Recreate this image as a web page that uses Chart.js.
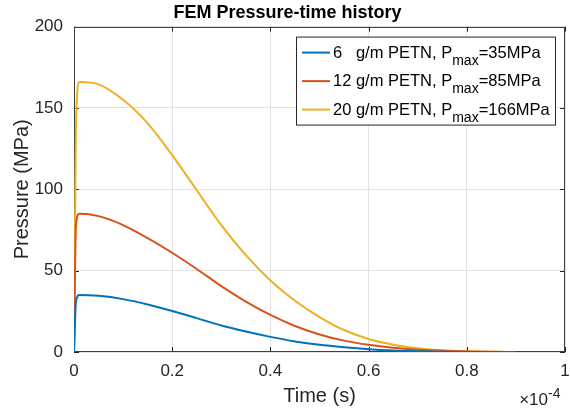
<!DOCTYPE html>
<html>
<head>
<meta charset="utf-8">
<script src="https://cdn.jsdelivr.net/npm/chart.js@4.4.1/dist/chart.umd.min.js"></script>
<style>
  html, body { margin: 0; padding: 0; background: #fff; }
</style>
</head>
<body>
<canvas id="femChart" width="570" height="412"></canvas>
<script>
  // time in units of 1e-4 s (axis shows x10^-4)
  const timeE4 = [0, 0.004, 0.011, 0.05, 0.1, 0.15, 0.2, 0.25, 0.3, 0.35, 0.4, 0.45, 0.5, 0.55, 0.6, 0.65, 0.7, 0.75, 0.8, 0.85, 0.9];
  const p6g  = [0, 31, 35, 34.5, 32.5, 29.2, 25.2, 20.8, 16.3, 12.6, 9.3, 6.5, 4.4, 2.9, 1.7, 0.9, 0.45, 0.2, 0.06, 0, 0];
  const p12g = [0, 78, 85, 83.5, 78, 70, 61, 51, 40.5, 31, 22.8, 16, 10.8, 7, 4.4, 2.6, 1.4, 0.7, 0.3, 0.1, 0];
  const p20g = [0, 140, 166, 164.5, 155, 140.5, 121, 99.4, 78, 59.5, 44, 31.5, 21.5, 13.5, 8, 4.5, 2.3, 1.0, 0.4, 0.1, 0];

  const charges = ['6   g/m', '12 g/m', '20 g/m'];
  const pmaxValues = [35, 85, 166];
  const xTicks = [0, 0.2, 0.4, 0.6, 0.8, 1];
  const yTicks = [0, 50, 100, 150, 200];

  const colors = ['#0072BD', '#D95319', '#EDB120'];
  const fontFamily = "'Liberation Sans', Arial, Helvetica, sans-serif";
  Chart.defaults.font.family = fontFamily;
  Chart.defaults.color = '#262626';

  const toPoints = vals => vals.map((v, i) => ({ x: timeE4[i], y: v }));
  const series = [p6g, p12g, p20g];
  const fmt = v => String(Number(Number(v).toFixed(2)));

  // MATLAB style box, inward ticks, exponent label, legend with subscript
  const boxPlugin = {
    id: 'matlabBox',
    beforeDatasetsDraw(chart) {
      const { ctx, chartArea: a, scales } = chart;
      ctx.save();
      ctx.strokeStyle = '#262626';
      ctx.lineWidth = 1;
      ctx.beginPath();
      xTicks.forEach(t => {
        const px = Math.round(scales.x.getPixelForValue(t)) + 0.5;
        ctx.moveTo(px, a.bottom); ctx.lineTo(px, a.bottom - 5);
        ctx.moveTo(px, a.top); ctx.lineTo(px, a.top + 5);
      });
      yTicks.forEach(t => {
        const py = Math.round(scales.y.getPixelForValue(t)) + 0.5;
        ctx.moveTo(a.left, py); ctx.lineTo(a.left + 5, py);
        ctx.moveTo(a.right, py); ctx.lineTo(a.right - 5, py);
      });
      ctx.stroke();
      ctx.strokeStyle = '#404040';
      ctx.strokeRect(Math.round(a.left) + 0.5, Math.round(a.top) + 0.5,
        Math.round(a.width) - 1, Math.round(a.height) - 1);
      ctx.restore();
    },
    afterDraw(chart) {
      const { ctx, chartArea: a } = chart;
      ctx.save();
      ctx.fillStyle = '#262626';
      ctx.textBaseline = 'alphabetic';
      ctx.textAlign = 'right';
      ctx.font = '17px ' + fontFamily;
      ctx.fillText('\u00d710', a.right - 17, a.bottom + 53);
      ctx.textAlign = 'left';
      ctx.font = '14px ' + fontFamily;
      ctx.fillText('-4', a.right - 17, a.bottom + 46);

      // legend
      const bx = a.right - 269, by = a.top + 10, bw = 259, bh = 88;
      ctx.fillStyle = '#fff';
      ctx.fillRect(bx, by, bw, bh);
      ctx.strokeStyle = '#262626';
      ctx.lineWidth = 1;
      ctx.strokeRect(bx + 0.5, by + 0.5, bw, bh);
      charges.forEach((c, i) => {
        const rowY = by + 16 + i * 28.5;
        ctx.strokeStyle = colors[i];
        ctx.lineWidth = 2;
        ctx.beginPath();
        ctx.moveTo(bx + 6, rowY);
        ctx.lineTo(bx + 34, rowY);
        ctx.stroke();
        ctx.fillStyle = '#000';
        let x = bx + 37;
        const base = rowY + 5;
        ctx.font = '16.5px ' + fontFamily;
        const t1 = c + ' PETN, P';
        ctx.fillText(t1, x, base);
        x += ctx.measureText(t1).width;
        ctx.font = '14px ' + fontFamily;
        ctx.fillText('max', x, base + 7);
        x += ctx.measureText('max').width;
        ctx.font = '16.5px ' + fontFamily;
        ctx.fillText('=' + pmaxValues[i] + 'MPa', x, base);
      });
      ctx.restore();
    }
  };

  const ctx = document.getElementById('femChart').getContext('2d');
  new Chart(ctx, {
    type: 'line',
    data: {
      datasets: series.map((vals, i) => ({
        label: charges[i] + ' PETN, Pmax=' + pmaxValues[i] + 'MPa',
        data: toPoints(vals),
        borderColor: colors[i],
        backgroundColor: colors[i],
        borderWidth: 2,
        pointRadius: 0,
        cubicInterpolationMode: 'monotone',
        fill: false
      }))
    },
    options: {
      responsive: false,
      animation: false,
      layout: { padding: { left: 10, right: 5, top: 0, bottom: 0 } },
      plugins: {
        legend: { display: false },
        tooltip: { enabled: false },
        title: {
          display: true,
          text: 'FEM Pressure-time history',
          color: '#000',
          font: { size: 18, weight: 'bold' },
          padding: { top: 2, bottom: 3 }
        }
      },
      scales: {
        x: {
          type: 'linear',
          min: 0,
          max: 1,
          afterBuildTicks: s => { s.ticks = xTicks.map(v => ({ value: v })); },
          afterFit: s => { s.height = 60; s.paddingLeft = 0; s.paddingRight = 0; },
          grid: { color: '#e3e3e3', drawTicks: false },
          border: { display: false },
          ticks: { font: { size: 17 }, color: '#262626', padding: 9, maxRotation: 0, callback: fmt },
          title: { display: true, text: 'Time (s)', font: { size: 20 }, color: '#262626', padding: { top: 4 } }
        },
        y: {
          type: 'linear',
          min: 0,
          max: 200,
          afterBuildTicks: s => { s.ticks = yTicks.map(v => ({ value: v })); },
          afterFit: s => { s.width = 64; s.paddingTop = 0; s.paddingBottom = 0; },
          grid: { color: '#e3e3e3', drawTicks: false },
          border: { display: false },
          ticks: { font: { size: 17 }, color: '#262626', padding: 11, callback: fmt },
          title: { display: true, text: 'Pressure (MPa)', font: { size: 20 }, color: '#262626', padding: { top: 0, bottom: 0 } }
        }
      }
    },
    plugins: [boxPlugin]
  });
</script>
</body>
</html>
